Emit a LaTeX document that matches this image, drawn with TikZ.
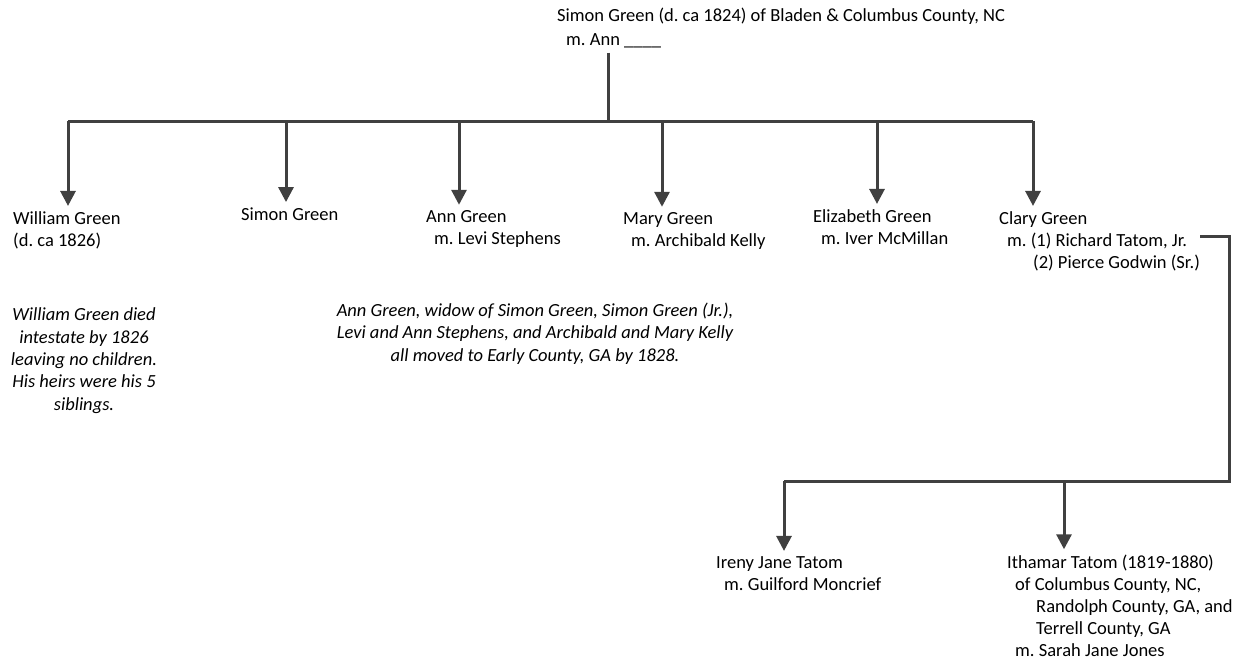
\documentclass[tikz,border=0pt]{standalone}
\usepackage{fontspec}
\setmainfont{Carlito}
\usepackage{tikz}
\usetikzlibrary{arrows.meta}
\definecolor{linegray}{HTML}{404040}
\newcommand{\ind}[1]{\hspace*{#1pt}}
\frenchspacing

\begin{document}
\begin{tikzpicture}[x=1pt, y=-1pt,
        every node/.style = {inner sep=0pt, font=\fontsize{18.5}{22}\selectfont, align=left, anchor=base west},
        person/.style = {},
        note/.style = {align=center, anchor=base, font=\fontsize{18.5}{22.3}\selectfont\itshape},
        line/.style = {draw=linegray, line width=3pt},
        arr/.style = {line, -{Triangle[width=15pt, length=15pt]}, shorten >=5pt}]
        \useasboundingbox (0,0) rectangle (1245,664);
        
        % base of each node = baseline of its last line
        \node (p) [person] at (557, 45) {Simon Green (d. ca 1824) of Bladen \& Columbus County, NC\\[2pt]\ind{9}m. Ann \_\_\_\_};
        
        \node (c0) [person] at (13, 246) {William Green\\(d. ca 1826)};
        \node (c1) [person] at (241, 220) {Simon Green};
        \node (c2) [person] at (426, 244) {Ann Green\\\ind{8}m. Levi Stephens};
        \node (c3) [person] at (623, 246) {Mary Green\\\ind{8}m. Archibald Kelly};
        \node (c4) [person] at (813, 244) {Elizabeth Green\\\ind{8}m. Iver McMillan};
        \node (c5) [person] at (999, 268) {Clary Green\\\ind{8}m. (1) Richard Tatom, Jr.\\\ind{34}(2) Pierce Godwin (Sr.)};
        
        \node (g0) [person] at (716, 590) {Ireny Jane Tatom\\\ind{8}m. Guilford Moncrief};
        \node (g1) [person] at (1007, 656) {Ithamar Tatom (1819-1880)\\\ind{8}of Columbus County, NC,\\\ind{29}Randolph County, GA, and\\\ind{29}Terrell County, GA\\\ind{8}m. Sarah Jane Jones};
        
        \node (n0) [note] at (84, 410) {William Green died\\intestate by 1826\\leaving no children.\\His heirs were his 5\\siblings.};
        \node (n1) [note] at (535, 361) {Ann Green, widow of Simon Green, Simon Green (Jr.),\\Levi and Ann Stephens, and Archibald and Mary Kelly\\all moved to Early County, GA by 1828.};
        
        % bar under the parents
        \coordinate (j) at (608, 121);
        \coordinate (j0) at (68, 121);
        \coordinate (j1) at (286, 121);
        \coordinate (j2) at (459, 121);
        \coordinate (j3) at (662, 121);
        \coordinate (j4) at (877, 121);
        \coordinate (j5) at (1033, 121);
        
        \draw[line, shorten <=5pt] (p.south -| j) -- (j);
        \draw[line] (j0) -- (j5);
        
        \draw[arr] (j0) -- (j0 |- c0.north);
        \draw[arr] (j1) -- (j1 |- c1.north);
        \draw[arr] (j2) -- (j2 |- c2.north);
        \draw[arr] (j3) -- (j3 |- c3.north);
        \draw[arr] (j4) -- (j4 |- c4.north);
        \draw[arr] (j5) -- (j5 |- c5.north);
        
        % Clary's children
        \coordinate (k0) at (1229, 236);
        \coordinate (k1) at (1229, 481);
        \coordinate (k2) at (784, 481);
        \coordinate (k3) at (1064, 481);
        
        \draw[line] (c5.east |- k0) -- (k0) -- (k1) -- (k2);
        \draw[arr] (k2) -- (k2 |- g0.north);
        \draw[arr] (k3) -- (k3 |- g1.north);
    \end{tikzpicture}
\end{document}
